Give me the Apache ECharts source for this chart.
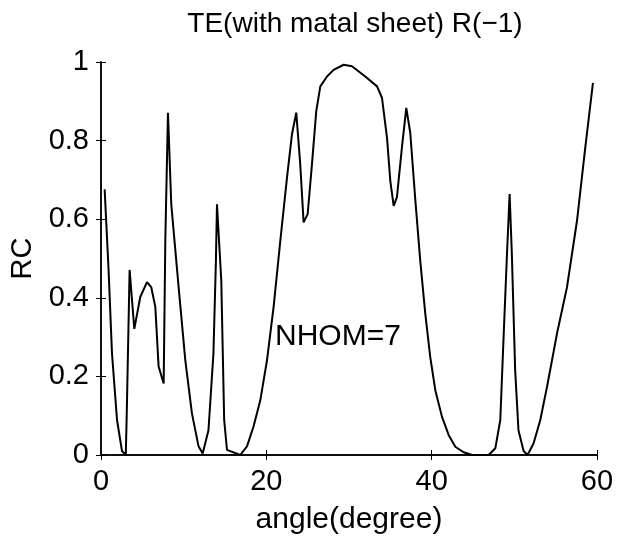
<!DOCTYPE html>
<html>
<head>
<meta charset="utf-8">
<script src="https://cdn.jsdelivr.net/npm/echarts@6/dist/echarts.min.js"></script>
<style>html,body{margin:0;padding:0;background:#fff;}#chart{width:618px;height:540px;}</style>
</head>
<body>
<div id="chart"></div>
<script>
const titleText = 'TE(with matal sheet) R(\u22121)';
const xName = 'angle(degree)';
const yName = 'RC';
const annotation = 'NHOM=7';
const xTicks = [0, 20, 40, 60];
const yTicks = [0, 0.2, 0.4, 0.6, 0.8, 1];
const angle = [0.44,0.92,1.33,1.94,2.54,3.0,3.14,3.46,4.03,4.75,5.56,6.08,6.57,6.97,7.58,7.78,8.1,8.5,9.39,10.2,11.0,11.8,12.3,13.0,13.6,13.9,14.03,14.55,14.9,15.24,16.85,17.66,18.46,19.27,20.08,20.88,21.69,22.5,23.1,23.62,24.1,24.51,25.0,25.52,26.04,26.53,27.34,28.14,29.35,30.36,31.97,33.39,33.99,34.6,35.0,35.4,35.8,36.4,36.93,37.41,38.0,38.62,39.23,39.83,40.44,41.25,42.05,42.86,43.86,44.9,46.9,47.7,48.3,48.7,49.11,49.43,49.7,50.1,50.5,51.12,51.6,52.33,53.14,53.95,55.16,56.37,57.58,58.58,59.51];
const rc = [0.676,0.469,0.258,0.089,0.01,0.0,0.13,0.471,0.321,0.402,0.44,0.427,0.377,0.225,0.182,0.545,0.871,0.638,0.427,0.241,0.106,0.022,0.004,0.063,0.258,0.494,0.638,0.444,0.089,0.013,0.0,0.022,0.073,0.139,0.241,0.377,0.545,0.706,0.816,0.871,0.74,0.592,0.613,0.74,0.875,0.938,0.963,0.98,0.993,0.989,0.963,0.938,0.909,0.807,0.697,0.634,0.656,0.782,0.883,0.82,0.655,0.494,0.359,0.249,0.165,0.097,0.051,0.021,0.007,0.0,0.0,0.017,0.089,0.3,0.511,0.664,0.511,0.216,0.063,0.01,0.0,0.03,0.089,0.173,0.309,0.427,0.596,0.782,0.947];

const FONT = 'Liberation Sans, Arial, Helvetica, sans-serif';
const chart = echarts.init(document.getElementById('chart'), null, {renderer: 'canvas'});
const axisCommon = {
  axisLine: {show: true, lineStyle: {color: '#000', width: 1.5}},
  axisTick: {show: true, inside: true, length: 5, lineStyle: {color: '#000', width: 1}},
  splitLine: {show: false}
};
chart.setOption({
  animation: false,
  backgroundColor: '#fff',
  title: {
    text: titleText, left: 350, top: 5, textAlign: 'center',
    textStyle: {fontFamily: FONT, fontSize: 28, fontWeight: 'normal', color: '#000'}
  },
  grid: {left: 101, right: 21, top: 62, bottom: 84, containLabel: false},
  xAxis: [
    Object.assign({}, axisCommon, {
      type: 'value', min: xTicks[0], max: xTicks[xTicks.length-1], interval: 20, position: 'bottom',
      name: xName, nameLocation: 'middle', nameGap: 50,
      nameTextStyle: {fontFamily: FONT, fontSize: 30, color: '#000'},
      axisLabel: {fontFamily: FONT, fontSize: 29, color: '#000', margin: 12}
    }),
    Object.assign({}, axisCommon, {
      type: 'value', min: xTicks[0], max: xTicks[xTicks.length-1], interval: 20, position: 'top',
      axisLabel: {show: false}
    })
  ],
  yAxis: [
    Object.assign({}, axisCommon, {
      type: 'value', min: yTicks[0], max: yTicks[yTicks.length-1], interval: 0.2, position: 'left',
      name: yName, nameLocation: 'middle', nameGap: 64,
      nameTextStyle: {fontFamily: FONT, fontSize: 29, color: '#000'},
      axisLabel: {fontFamily: FONT, fontSize: 29, color: '#000', margin: 12,
        formatter: v => (Math.abs(v) < 1e-9 ? '0' : (Math.abs(v-1) < 1e-9 ? '1' : String(+v.toFixed(1))))}
    }),
    Object.assign({}, axisCommon, {
      type: 'value', min: yTicks[0], max: yTicks[yTicks.length-1], interval: 0.2, position: 'right',
      axisLabel: {show: false}
    })
  ],
  graphic: [{
    type: 'text', left: 275, top: 322,
    style: {text: annotation, font: '30px ' + FONT, fill: '#000'}
  }],
  series: [{
    type: 'line', xAxisIndex: 0, yAxisIndex: 0,
    data: angle.map((a, i) => [a, rc[i]]),
    showSymbol: false, symbol: 'none',
    lineStyle: {color: '#000', width: 2},
    clip: true
  }]
});
</script>
</body>
</html>
